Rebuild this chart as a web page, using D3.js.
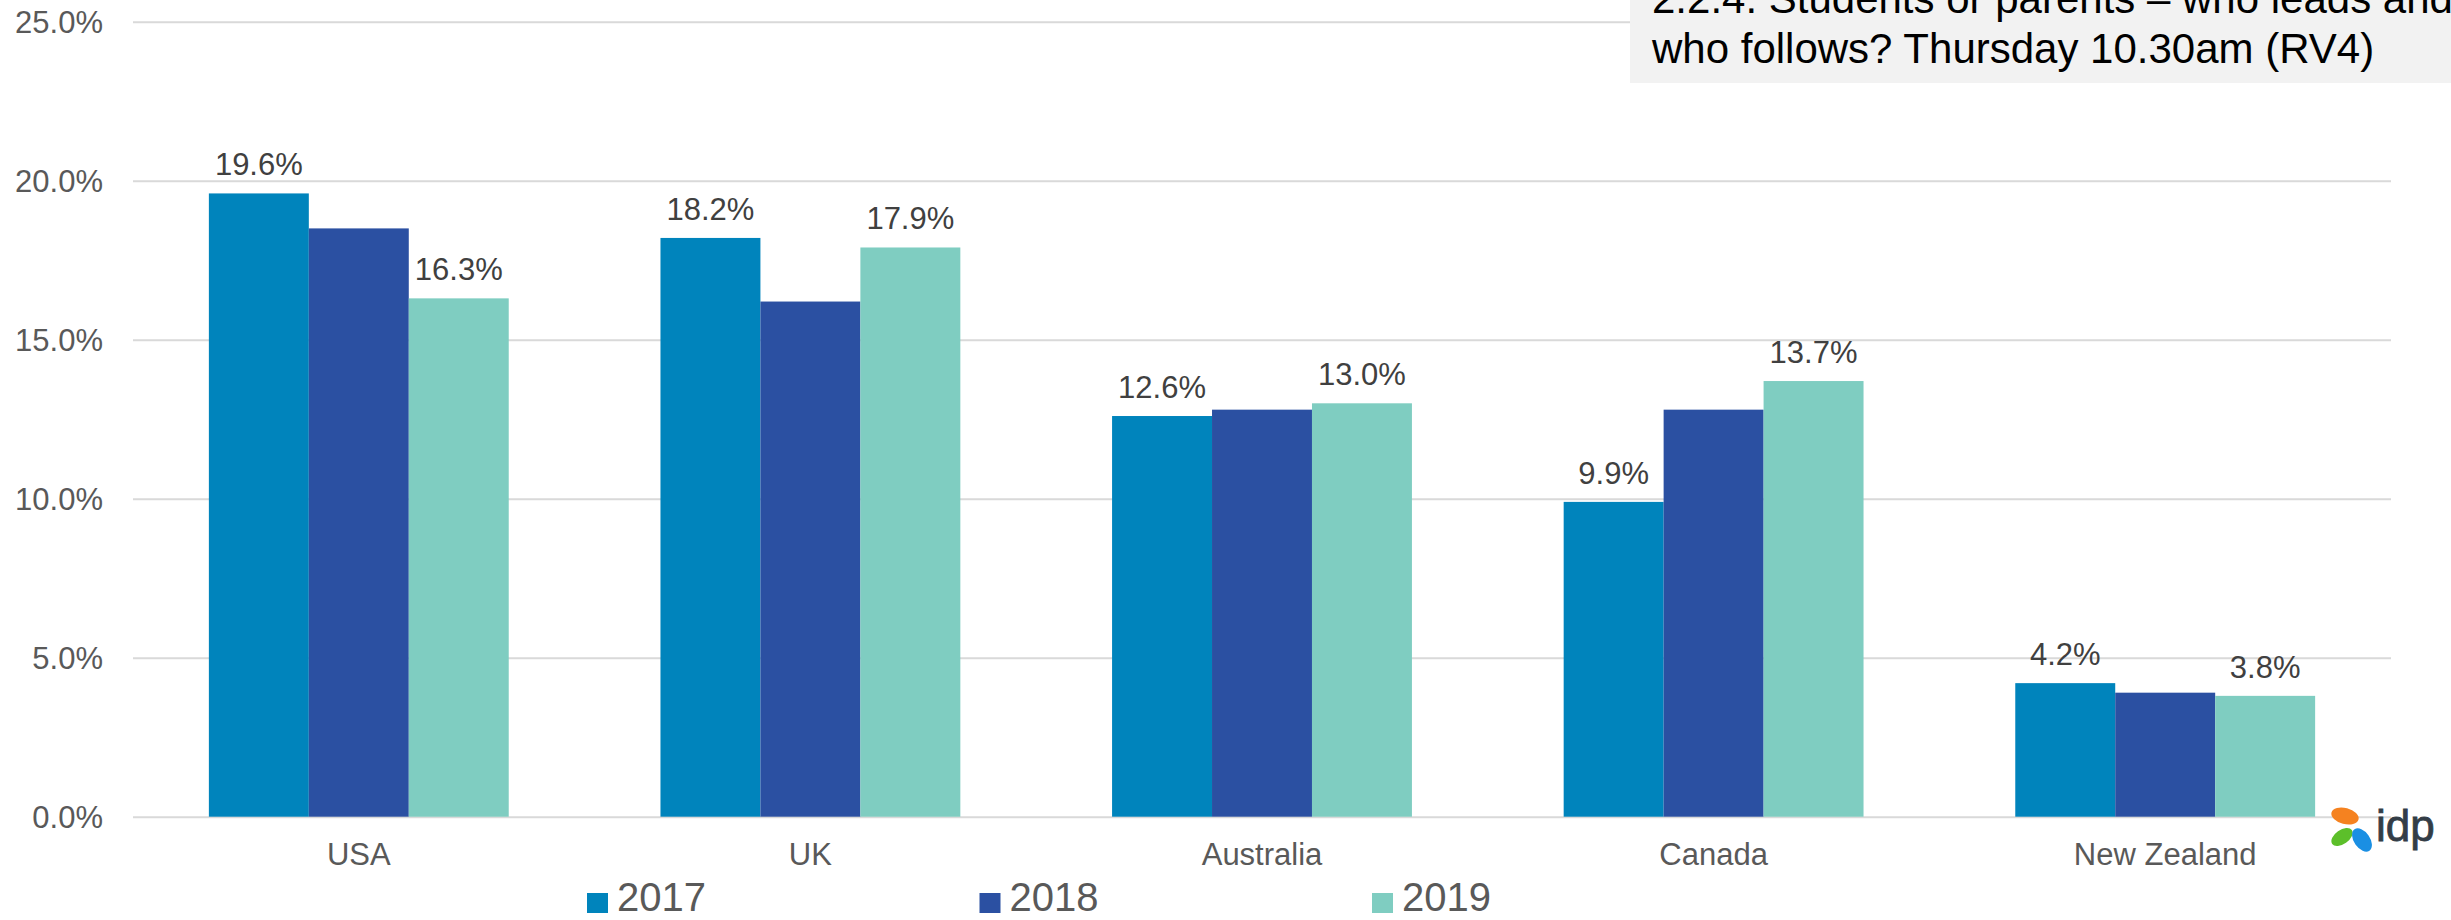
<!DOCTYPE html>
<html>
<head>
<meta charset="utf-8">
<script src="https://cdn.jsdelivr.net/npm/d3@7"></script>
<style>
  body { margin: 0; background: #fff; }
  svg { display: block; font-family: "Liberation Sans", Arial, sans-serif; }
</style>
</head>
<body>
<figure id="bar" style="margin:0"></figure>
<script>
// chart data
const categories = ["USA", "UK", "Australia", "Canada", "New Zealand"];
const years = ["2017", "2018", "2019"];
const values2017 = [19.6, 18.2, 12.6, 9.9, 4.2];
const values2018 = [18.5, 16.2, 12.8, 12.8, 3.9];
const values2019 = [16.3, 17.9, 13.0, 13.7, 3.8];
const labelledYears = ["2017", "2019"];
const yTicks = [0, 5, 10, 15, 20, 25];
const titleLines = ["2.2.4. Students or parents \u2013 who leads and", "who follows? Thursday 10.30am (RV4)"];

const colors = { "2017": "#0084bc", "2018": "#2b50a2", "2019": "#7fcdc1" };
const chartW = 2451, chartH = 920;
const plotLeft = 133, plotRight = 2391, plotTop = 21.7, plotBottom = 816.7;

const series = { "2017": values2017, "2018": values2018, "2019": values2019 };
const data = categories.map((c, i) => ({
  cat: c,
  vals: years.map(yr => ({ year: yr, value: series[yr][i] }))
}));

const svg = d3.select("figure#bar")
  .append("svg")
  .attr("width", chartW)
  .attr("height", chartH);

const x = d3.scaleBand()
  .domain(categories)
  .range([plotLeft, plotRight])
  .paddingInner(0.336)
  .paddingOuter(0.168);

const x1 = d3.scaleBand()
  .domain(years)
  .range([0, x.bandwidth()]);

const y = d3.scaleLinear()
  .domain([0, 25])
  .range([plotBottom, plotTop]);

// y axis with gridlines
const yAxis = svg.append("g")
  .attr("transform", "translate(" + plotLeft + ",0)")
  .call(d3.axisLeft(y)
    .tickValues(yTicks)
    .tickSize(-(plotRight - plotLeft))
    .tickPadding(30)
    .tickFormat(d => d.toFixed(1) + "%"));
yAxis.select(".domain").remove();
yAxis.selectAll("line").attr("stroke", "#d9d9d9").attr("stroke-width", 2);
yAxis.selectAll("text")
  .attr("fill", "#595959")
  .style("font-size", "31px")
  .attr("dy", "0.35em");

// bars
const groups = svg.selectAll("g.cat")
  .data(data)
  .enter()
  .append("g")
  .attr("class", "cat")
  .attr("transform", d => "translate(" + x(d.cat) + ",0)");

groups.selectAll("rect")
  .data(d => d.vals)
  .enter()
  .append("rect")
  .attr("x", d => x1(d.year))
  .attr("y", d => y(d.value))
  .attr("width", x1.bandwidth())
  .attr("height", d => plotBottom - y(d.value))
  .attr("fill", d => colors[d.year]);

// value labels (2017 and 2019 only)
groups.selectAll("text.val")
  .data(d => d.vals.filter(v => labelledYears.includes(v.year)))
  .enter()
  .append("text")
  .attr("class", "val")
  .attr("x", d => x1(d.year) + x1.bandwidth() / 2)
  .attr("y", d => y(d.value) - 18)
  .attr("text-anchor", "middle")
  .attr("fill", "#404040")
  .style("font-size", "31px")
  .text(d => d.value.toFixed(1) + "%");

// category axis
const xAxis = svg.append("g")
  .attr("transform", "translate(0," + plotBottom + ")")
  .call(d3.axisBottom(x).tickSize(0));
xAxis.select(".domain").remove();
xAxis.selectAll("text")
  .attr("y", 48)
  .attr("dy", 0)
  .attr("fill", "#595959")
  .style("font-size", "31px");

// legend
const legend = svg.append("g");
const legendX = d3.scalePoint().domain(years).range([587, 1372]);
const item = legend.selectAll("g")
  .data(years)
  .enter()
  .append("g")
  .attr("transform", d => "translate(" + legendX(d) + ",0)");
item.append("rect")
  .attr("y", 893)
  .attr("width", 21)
  .attr("height", 20)
  .attr("fill", d => colors[d]);
item.append("text")
  .attr("x", 30)
  .attr("y", 911)
  .attr("fill", "#595959")
  .style("font-size", "40px")
  .text(d => d);

// title box top right
svg.append("rect")
  .attr("x", 1630)
  .attr("y", 0)
  .attr("width", chartW - 1630)
  .attr("height", 83)
  .attr("fill", "#f2f2f2");
svg.selectAll("text.title")
  .data(titleLines)
  .enter()
  .append("text")
  .attr("class", "title")
  .attr("x", 1652)
  .attr("y", (d, i) => 13 + i * 50)
  .attr("fill", "#000")
  .style("font-size", "42px")
  .text(d => d);

// idp logo
const logo = svg.append("g");
logo.append("ellipse").attr("cx", 2345).attr("cy", 816).attr("rx", 14).attr("ry", 8)
  .attr("transform", "rotate(15 2345 816)").attr("fill", "#f58220");
logo.append("ellipse").attr("cx", 2342).attr("cy", 837).attr("rx", 12).attr("ry", 7)
  .attr("transform", "rotate(-35 2342 837)").attr("fill", "#5cbf2a");
logo.append("ellipse").attr("cx", 2362).attr("cy", 840).attr("rx", 13).attr("ry", 8)
  .attr("transform", "rotate(55 2362 840)").attr("fill", "#1a8fe3");
logo.append("text")
  .attr("x", 2376)
  .attr("y", 841)
  .attr("fill", "#333d47")
  .attr("stroke", "#333d47")
  .attr("stroke-width", 0.8)
  .style("font-size", "44px")
  .text("idp");
</script>
</body>
</html>
